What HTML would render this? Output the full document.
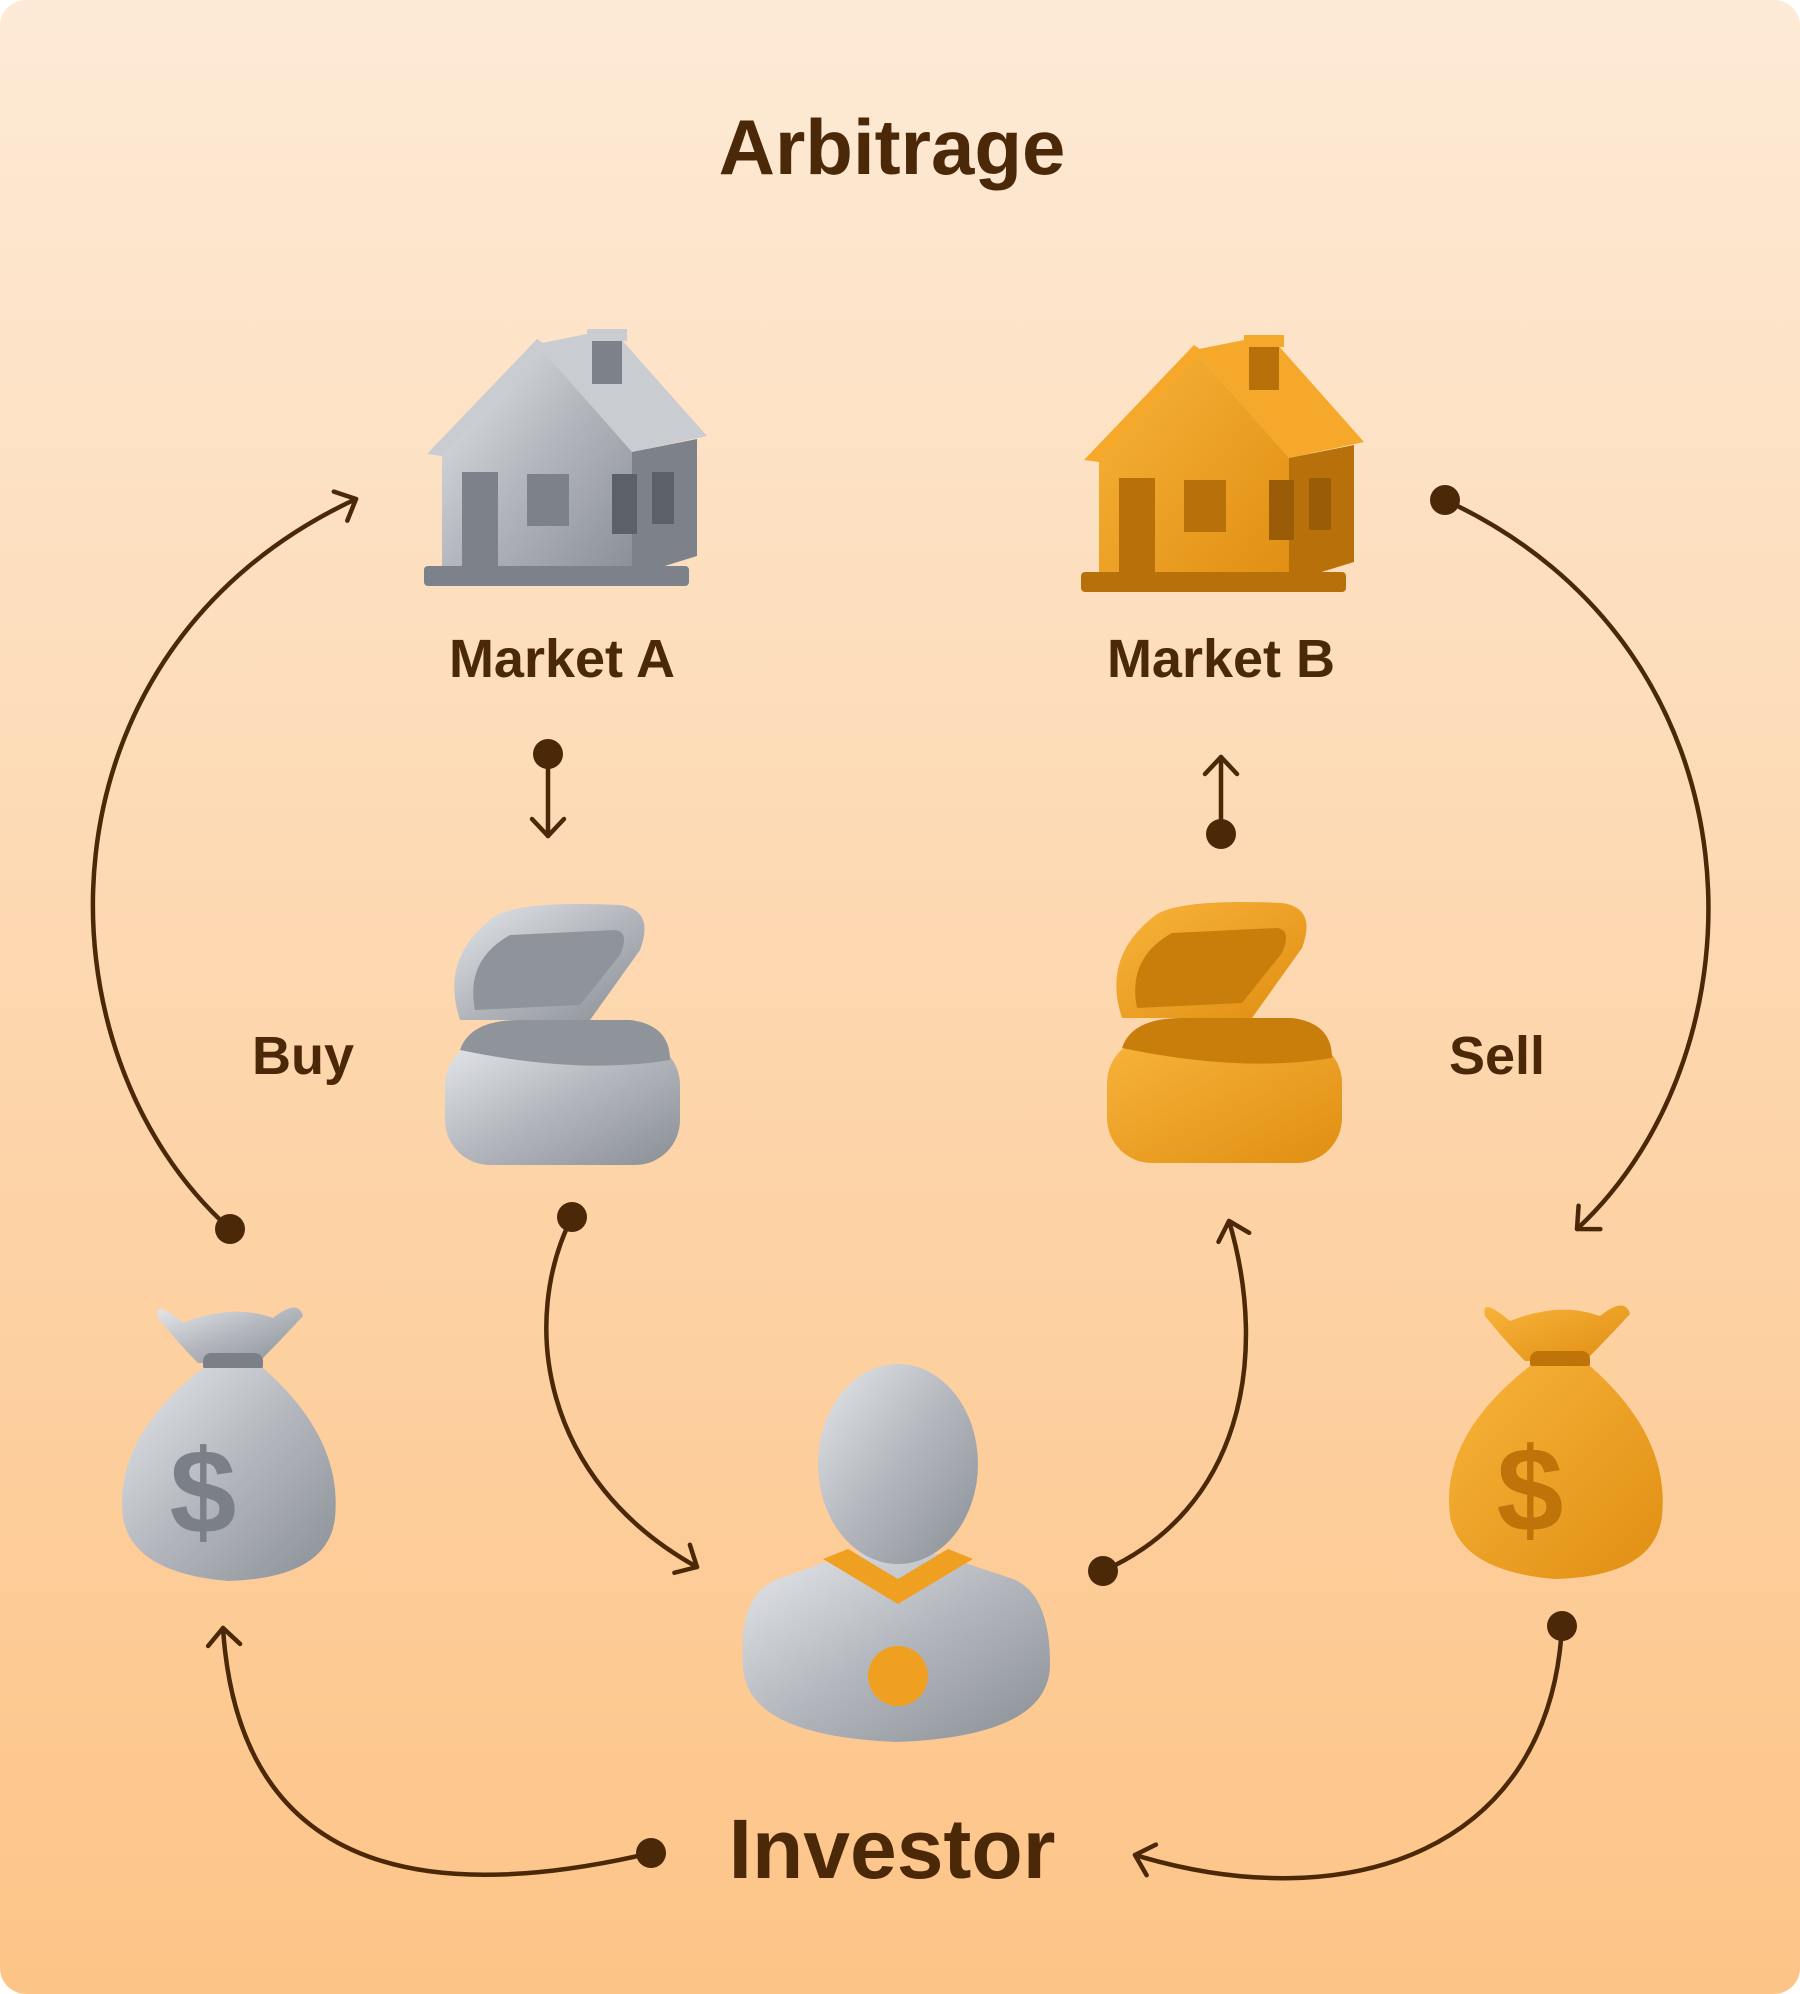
<!DOCTYPE html>
<html><head><meta charset="utf-8"><style>
html,body{margin:0;padding:0;background:#fff}
svg{display:block}
text{font-family:"Liberation Sans",sans-serif;font-weight:bold;fill:#4a2808}
</style></head><body>
<svg width="1800" height="1994" viewBox="0 0 1800 1994" xmlns="http://www.w3.org/2000/svg">
<defs>
<linearGradient id="bg" x1="0" y1="0" x2="0" y2="1"><stop offset="0" stop-color="#fdead6"/><stop offset="1" stop-color="#fdc487"/></linearGradient>
<linearGradient id="sil" x1="0" y1="0" x2="1" y2="1"><stop offset="0" stop-color="#e4e6ea"/><stop offset="0.5" stop-color="#b3b7bd"/><stop offset="1" stop-color="#8a8f96"/></linearGradient>
<linearGradient id="org" x1="0" y1="0" x2="1" y2="1"><stop offset="0" stop-color="#f8b33a"/><stop offset="1" stop-color="#e08f12"/></linearGradient>
<marker id="ah" viewBox="-20 -20 26 40" markerWidth="26" markerHeight="40" refX="0" refY="0" orient="auto" markerUnits="userSpaceOnUse">
<path d="M-17,-16 L0,0 L-17,16" fill="none" stroke="#4a2808" stroke-width="4.5" stroke-linecap="round" stroke-linejoin="round"/></marker>
<g id="house">
<polygon points="115,20 190,5 285,112 210,128" fill="var(--r)"/>
<rect x="170" y="10" width="30" height="50" fill="var(--d)"/>
<rect x="165" y="5" width="40" height="12" fill="var(--r)"/>
<polygon points="20,128 115,20 210,128 210,252 20,252" fill="var(--f)"/>
<polygon points="210,128 275,115 275,232 210,252" fill="var(--d)"/>
<polygon points="5,130 115,15 125,22 20,132" fill="var(--r)"/>
<rect x="40" y="148" width="36" height="100" fill="var(--d)"/>
<rect x="105" y="150" width="42" height="52" fill="var(--d)"/>
<rect x="190" y="150" width="25" height="60" fill="var(--w)"/>
<rect x="230" y="148" width="22" height="52" fill="var(--w)"/>
<rect x="2" y="242" width="265" height="20" rx="4" fill="var(--d)"/>
</g>
<g id="box">
<path d="M30,120 Q10,60 60,20 Q80,0 190,5 Q225,10 210,50 L160,120 Z" fill="var(--f)"/>
<path d="M45,110 Q35,60 80,35 L185,30 Q200,32 190,55 L150,105 Z" fill="var(--d)"/>
<rect x="15" y="140" width="235" height="125" rx="45" fill="var(--f)"/>
<path d="M30,150 Q40,120 90,120 L200,120 Q240,125 240,160 Q150,175 30,150 Z" fill="var(--d)"/>
</g>
<g id="bag">
<path d="M60,25 Q30,0 35,20 Q55,45 75,65 L135,65 Q155,45 180,18 Q175,0 150,20 Q110,5 60,25 Z" fill="var(--f)"/>
<rect x="80" y="55" width="60" height="20" rx="8" fill="var(--d)"/>
<path d="M80,70 Q-10,140 0,220 Q10,275 105,283 Q205,280 212,220 Q220,140 140,70 Z" fill="var(--f)"/>
<text x="80" y="235" font-size="120" style="fill:var(--d)" text-anchor="middle">$</text>
</g>
</defs>
<rect x="0" y="0" width="1800" height="1994" rx="26" fill="url(#bg)"/>
<text x="892" y="174" font-size="78" text-anchor="middle">Arbitrage</text>

<use href="#house" x="422" y="324" style="--f:url(#sil);--d:#7d8189;--r:#c9ccd1;--w:#5c6068"/>
<use href="#house" x="1079" y="330" style="--f:url(#org);--d:#b8700a;--r:#f5a82a;--w:#9a5c06"/>
<text x="562" y="677" font-size="54" text-anchor="middle">Market A</text>
<text x="1221" y="677" font-size="54" text-anchor="middle">Market B</text>

<use href="#box" x="430" y="900" style="--f:url(#sil);--d:#8f949b"/>
<use href="#box" x="1092" y="898" style="--f:url(#org);--d:#c97e0c"/>
<text x="303" y="1074" font-size="54" text-anchor="middle">Buy</text>
<text x="1497" y="1074" font-size="54" text-anchor="middle">Sell</text>

<use href="#bag" x="123" y="1298" style="--f:url(#sil);--d:#7b8087"/>
<use href="#bag" x="1450" y="1296" style="--f:url(#org);--d:#c07308"/>

<g transform="translate(738,1364)">
<path d="M5,300 Q0,230 40,215 L110,190 L200,190 L275,215 Q312,230 312,300 Q312,372 160,378 Q5,372 5,300 Z" fill="url(#sil)"/>
<ellipse cx="160" cy="100" rx="80" ry="100" fill="url(#sil)"/>
<path d="M85,195 L160,240 L235,195 L210,185 L160,215 L110,185 Z" fill="#f0a020"/>
<circle cx="160" cy="312" r="30" fill="#f0a020"/>
</g>
<text x="892" y="1878" font-size="84" text-anchor="middle">Investor</text>

<g fill="none" stroke="#4a2808" stroke-width="4.5" stroke-linecap="round">
<path d="M548,754 L548,836" marker-end="url(#ah)"/>
<path d="M1221,834 L1221,757" marker-end="url(#ah)"/>
<path d="M230,1229 C30,1050 30,650 356,499" marker-end="url(#ah)"/>
<path d="M1445,500 C1770,650 1770,1050 1577,1229" marker-end="url(#ah)"/>
<path d="M572,1217 C520,1320 540,1480 697,1567" marker-end="url(#ah)"/>
<path d="M1103,1571 C1240,1510 1270,1360 1229,1221" marker-end="url(#ah)"/>
<path d="M651,1853 C450,1900 240,1890 223,1628" marker-end="url(#ah)"/>
<path d="M1562,1626 C1550,1850 1350,1920 1135,1855" marker-end="url(#ah)"/>
</g>
<g fill="#4a2808">
<circle cx="548" cy="754" r="15"/><circle cx="1221" cy="834" r="15"/>
<circle cx="230" cy="1229" r="15"/><circle cx="1445" cy="500" r="15"/>
<circle cx="572" cy="1217" r="15"/><circle cx="1103" cy="1571" r="15"/>
<circle cx="651" cy="1853" r="15"/><circle cx="1562" cy="1626" r="15"/>
</g>
</svg>
</body></html>
